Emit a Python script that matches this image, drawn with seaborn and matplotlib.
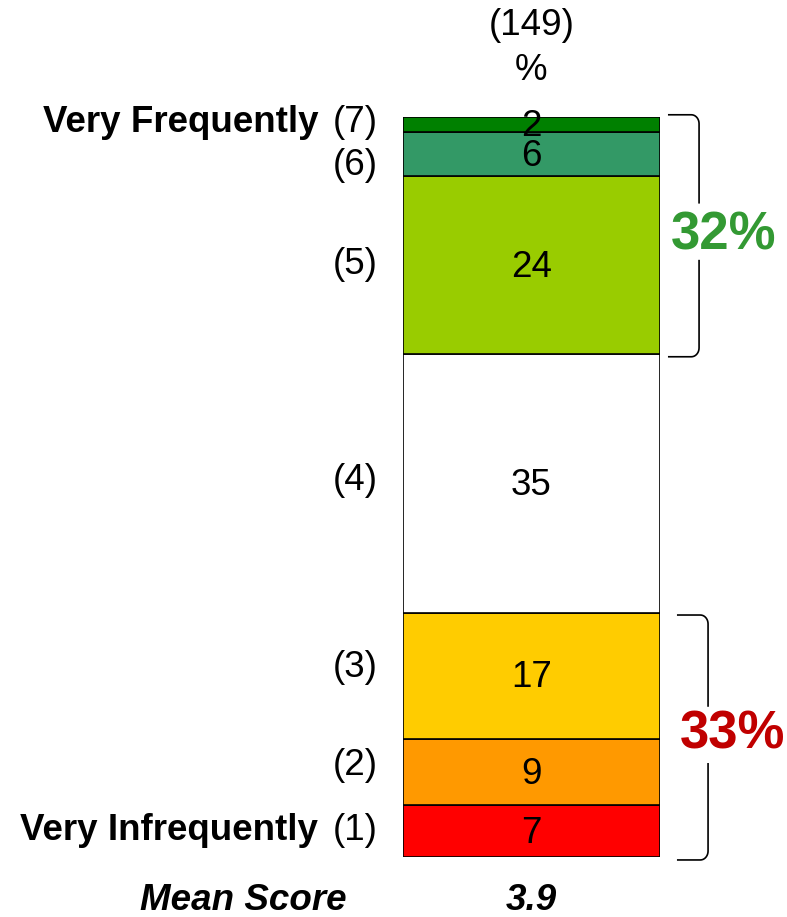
import matplotlib
matplotlib.use("Agg")
import matplotlib.pyplot as plt
import seaborn as sns
import numpy as np
import pandas as pd

# Response distribution, bottom (1) to top (7), in percent
scale_points = ["(1)", "(2)", "(3)", "(4)", "(5)", "(6)", "(7)"]
end_labels = {"(1)": "Very Infrequently", "(7)": "Very Frequently"}
percents = [7, 9, 17, 35, 24, 6, 2]
colors = ["#FF0000", "#FF9900", "#FFCC00", "#FFFFFF", "#99CC00", "#339966", "#008000"]
base_label = "(149)"
mean_score = "3.9"
top_box = "32%"
bottom_box = "33%"

sns.set_theme(style="white")
plt.rcParams["font.family"] = ["Liberation Sans", "DejaVu Sans"]
plt.rcParams["text.color"] = "black"

fig = plt.figure(figsize=(7.87, 9.17), dpi=100)
W, H = 787, 917
ax = fig.add_axes([403 / W, (H - 857) / H, 257 / W, 740 / H])

bottoms = np.concatenate([[0], np.cumsum(percents)[:-1]])

for p, b, c in zip(percents, bottoms, colors):
    sns.barplot(x=[base_label], y=[p], bottom=b, color=c, width=1.0,
                edgecolor="black", linewidth=1.2, saturation=1, ax=ax)

ax.set_xlim(-0.5, 0.5)
ax.set_ylim(0, 100)
ax.axis("off")

FS = 26.5
# Values inside the segments
for p, b in zip(percents, bottoms):
    ax.text(0, b + p / 2 - 0.3, f"{p}", ha="center", va="center", fontsize=FS)

# Scale labels on the left
label_nudge = [0.1, 0.8, 1.1, 0.4, 0.0, -1.5, 0.2]
for lab, p, b, dy in zip(scale_points, percents, bottoms, label_nudge):
    y = b + p / 2 + dy
    ax.annotate(lab, xy=(-0.5, y), xytext=(-18, 0), textcoords="offset points",
                ha="right", va="center", fontsize=FS, annotation_clip=False)
    if lab in end_labels:
        ax.annotate(end_labels[lab], xy=(-0.5, y), xytext=(-61, 0),
                    textcoords="offset points", ha="right", va="center",
                    fontsize=FS, fontweight="bold", annotation_clip=False)

# Base size and header
ax.text(0, 112.3, base_label, ha="center", va="center", fontsize=FS, clip_on=False)
ax.text(0, 106.3, "%", ha="center", va="center", fontsize=FS, clip_on=False)

# Mean score row
ax.text(-1.123, -5.9, "Mean Score", ha="center", va="center", fontsize=FS,
        fontweight="bold", fontstyle="italic", clip_on=False)
ax.text(0, -5.9, mean_score, ha="center", va="center", fontsize=FS,
        fontweight="bold", fontstyle="italic", clip_on=False)


def bracket(y0, y1, x_tip, x_line, gap_mid, gap_half, r=1.2, rx=0.03):
    """Right-facing square bracket with rounded corners and a gap for text."""
    kw = dict(color="black", lw=1.2, clip_on=False, solid_capstyle="butt")
    t = np.linspace(0, np.pi / 2, 10)
    xs = [x_tip] + list(x_line - rx + rx * np.sin(t)) + [x_line]
    ys = [y1] + list(y1 - r + r * np.cos(t)) + [gap_mid + gap_half]
    ax.plot(xs, ys, **kw)
    xs = [x_line] + list(x_line - rx + rx * np.cos(t)) + [x_tip]
    ys = [gap_mid - gap_half] + list(y0 + r - r * np.sin(t)) + [y0]
    ax.plot(xs, ys, **kw)


total = sum(percents)
top_lo = sum(percents[:4])
bot_hi = sum(percents[:3])

top_mid = (top_lo + total) / 2
bracket(top_lo - 0.4, total + 0.3, 0.531, 0.652, top_mid + 0.5, 3.8)
ax.text(0.746, top_mid, top_box, ha="center", va="center", fontsize=38,
        fontweight="bold", color="#339933", clip_on=False)

bot_mid = bot_hi / 2
bracket(-0.4, bot_hi - 0.3, 0.566, 0.687, bot_mid, 3.8)
ax.text(0.781, bot_mid, bottom_box, ha="center", va="center", fontsize=38,
        fontweight="bold", color="#C00000", clip_on=False)

fig.savefig("out.png", dpi=100)
